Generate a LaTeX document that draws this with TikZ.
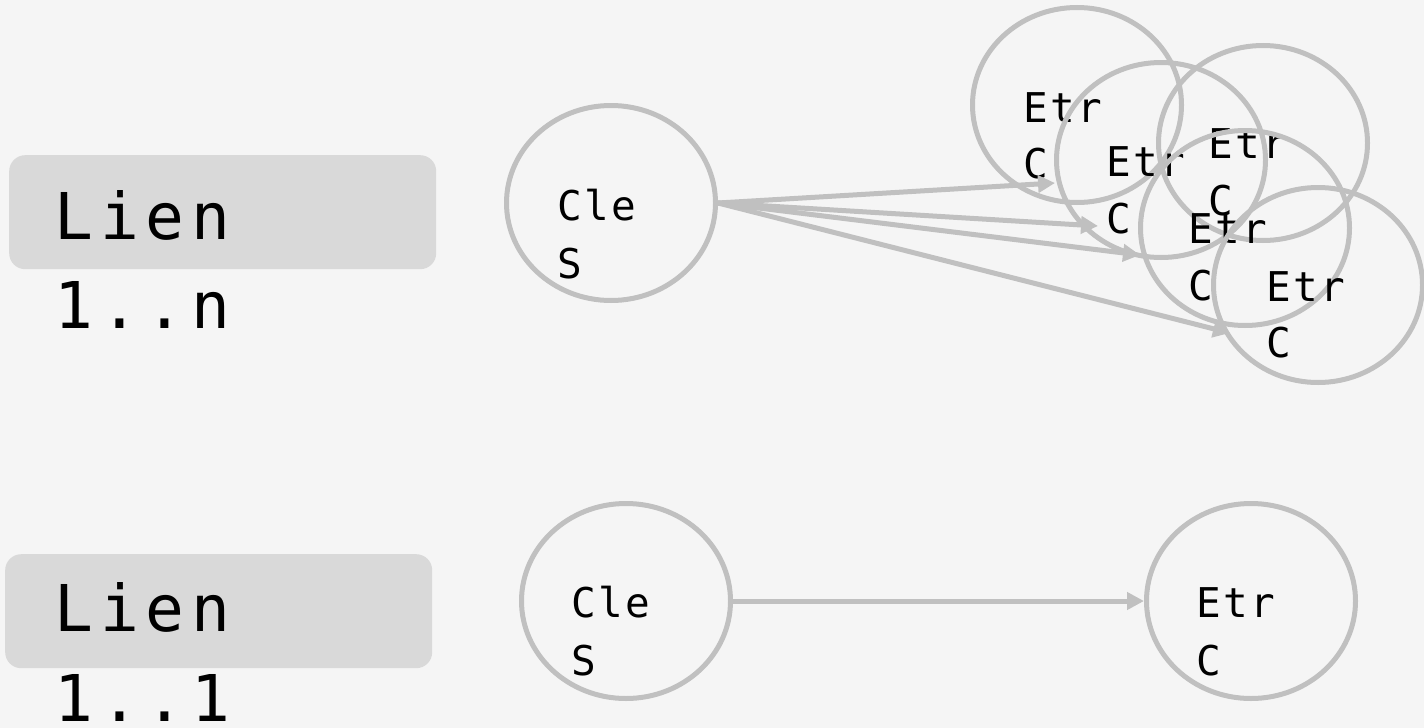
\documentclass[tikz,border=0pt]{standalone}
\usepackage{fontspec}
\usetikzlibrary{arrows.meta,shapes.geometric}
\newfontfamily\bigmono[LetterSpace=11]{DejaVu Sans Mono}
\newfontfamily\smallmono[LetterSpace=6]{DejaVu Sans Mono}
\definecolor{bg}{HTML}{F5F5F5}
\definecolor{edge}{HTML}{C0C0C0}
\definecolor{boxfill}{HTML}{D9D9D9}
\begin{document}
\begin{tikzpicture}[x=1pt,y=-1pt,
  ent/.style={ellipse, draw=edge, line width=5pt, minimum width=209pt, minimum height=195pt, inner sep=0pt},
  lienbox/.style={fill=boxfill, rounded corners=16pt, minimum width=427pt, minimum height=114pt, anchor=north west, inner sep=0pt},
  bigtxt/.style={font=\bigmono\fontsize{64.5}{70}\selectfont, anchor=base west, inner sep=0pt},
  smalltxt/.style={font=\smallmono\fontsize{41}{45}\selectfont, anchor=base west, inner sep=0pt},
  link/.style={draw=edge, line width=5pt, -{Triangle[length=17pt,width=17pt]}}]
\fill[bg] (0,0) rectangle (1424,728);
\useasboundingbox (0,0) rectangle (1424,728);

% left labels
\node[lienbox] (box1) at (9,155) {};
\node[bigtxt] (lien1) at (54,239) {Lien};
\node[bigtxt] (card1) at (54,328) {1..n};
\node[lienbox] (box2) at (5,554) {};
\node[bigtxt] (lien2) at (54,631) {Lien};
\node[bigtxt] (card2) at (54,721) {1..1};

% top: 1..n
\node[ent] (cle1) at (611,203) {};
\node[smalltxt] (cle1a) at (557,220) {Cle};
\node[smalltxt] (cle1b) at (557,278) {S};

\node[ent] (etrA) at (1077,105) {};
\node[smalltxt] (etrAa) at (1023,122) {Etr};
\node[smalltxt] (etrAb) at (1023,178) {C};

\node[ent] (etrB) at (1161,160) {};
\node[smalltxt] (etrBa) at (1106,176) {Etr};
\node[smalltxt] (etrBb) at (1106,233) {C};

\node[ent] (etrC) at (1263,143) {};
\node[smalltxt] (etrCa) at (1208,158) {Etr};
\node[smalltxt] (etrCb) at (1208,215) {C};

\node[ent] (etrD) at (1245,228) {};
\node[smalltxt] (etrDa) at (1188,243) {Etr};
\node[smalltxt] (etrDb) at (1188,300) {C};

\node[ent] (etrE) at (1318,285) {};
\node[smalltxt] (etrEa) at (1266,301) {Etr};
\node[smalltxt] (etrEb) at (1266,357) {C};

\coordinate (t1) at (1055,183);
\coordinate (t2) at (1098,226);
\coordinate (t3) at (1140,255);
\coordinate (t4) at (1230,333);
\draw[link] (cle1.east) -- (t1);
\draw[link] (cle1.east) -- (t2);
\draw[link] (cle1.east) -- (t3);
\draw[link] (cle1.east) -- (t4);

% bottom: 1..1
\node[ent] (cle2) at (626,601) {};
\node[smalltxt] (cle2a) at (571,617) {Cle};
\node[smalltxt] (cle2b) at (571,675) {S};
\node[ent] (etr2) at (1251,601) {};
\node[smalltxt] (etr2a) at (1196,617) {Etr};
\node[smalltxt] (etr2b) at (1196,675) {C};
\draw[link] (cle2.east) -- (etr2.west);
\end{tikzpicture}
\end{document}
